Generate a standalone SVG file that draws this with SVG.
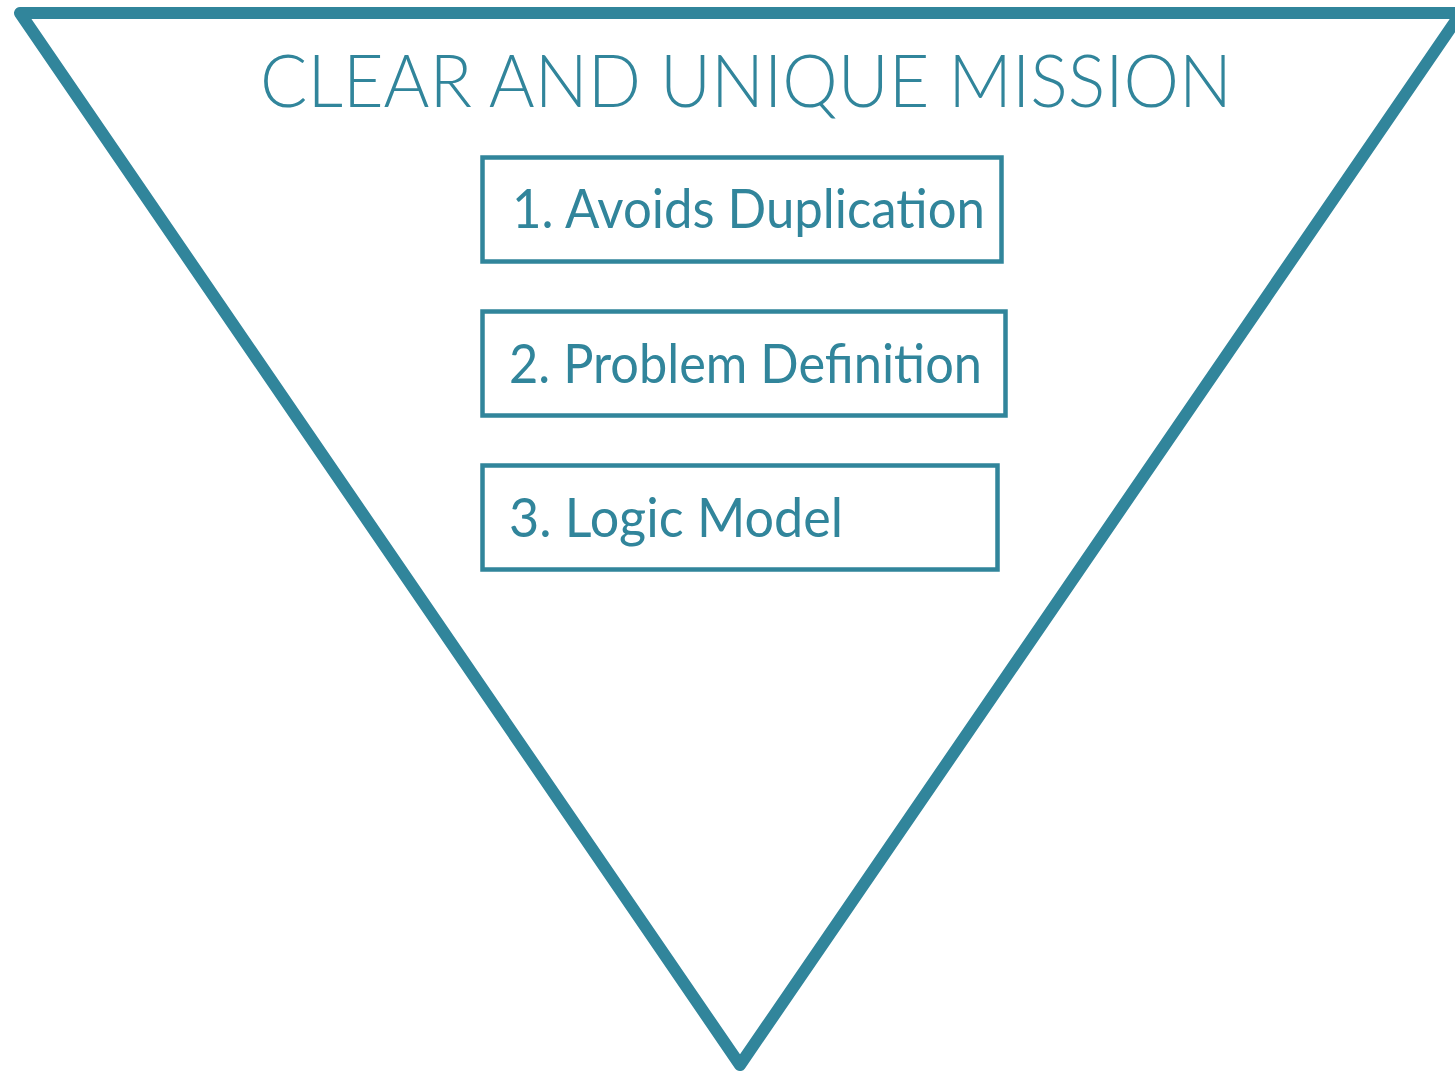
<svg xmlns="http://www.w3.org/2000/svg" width="1455" height="1073" viewBox="0 0 1455 1073">
<style>
.tri{fill:none;stroke:#31859B;stroke-width:12;stroke-linejoin:round}
.box{fill:none;stroke:#31859B;stroke-width:4.5}
.t{fill:#31859B;font-family:Lato,"Open Sans","Liberation Sans",sans-serif}
.title{font-size:72px;font-weight:300}
.lbl{font-size:55px}
</style>
<rect width="1455" height="1073" fill="#ffffff"/>
<g id="pyramid">
<path class="tri" d="M20,13 L1461,13 L740,1065 Z"/>
<text class="t title" x="260" y="107" textLength="972" lengthAdjust="spacingAndGlyphs">CLEAR AND UNIQUE MISSION</text>
</g>
<g id="node1">
<rect class="box" x="482.5" y="157.5" width="519" height="104"/>
<text class="t lbl" x="512" y="228" textLength="473" lengthAdjust="spacingAndGlyphs">1. Avoids Duplication</text>
</g>
<g id="node2">
<rect class="box" x="482.5" y="311.5" width="523" height="104"/>
<text class="t lbl" x="509" y="383" textLength="473" lengthAdjust="spacingAndGlyphs">2. Problem Definition</text>
</g>
<g id="node3">
<rect class="box" x="482.5" y="465.5" width="515" height="104"/>
<text class="t lbl" x="509" y="537" textLength="334" lengthAdjust="spacingAndGlyphs">3. Logic Model</text>
</g>
<g id="connectors"></g>
</svg>
